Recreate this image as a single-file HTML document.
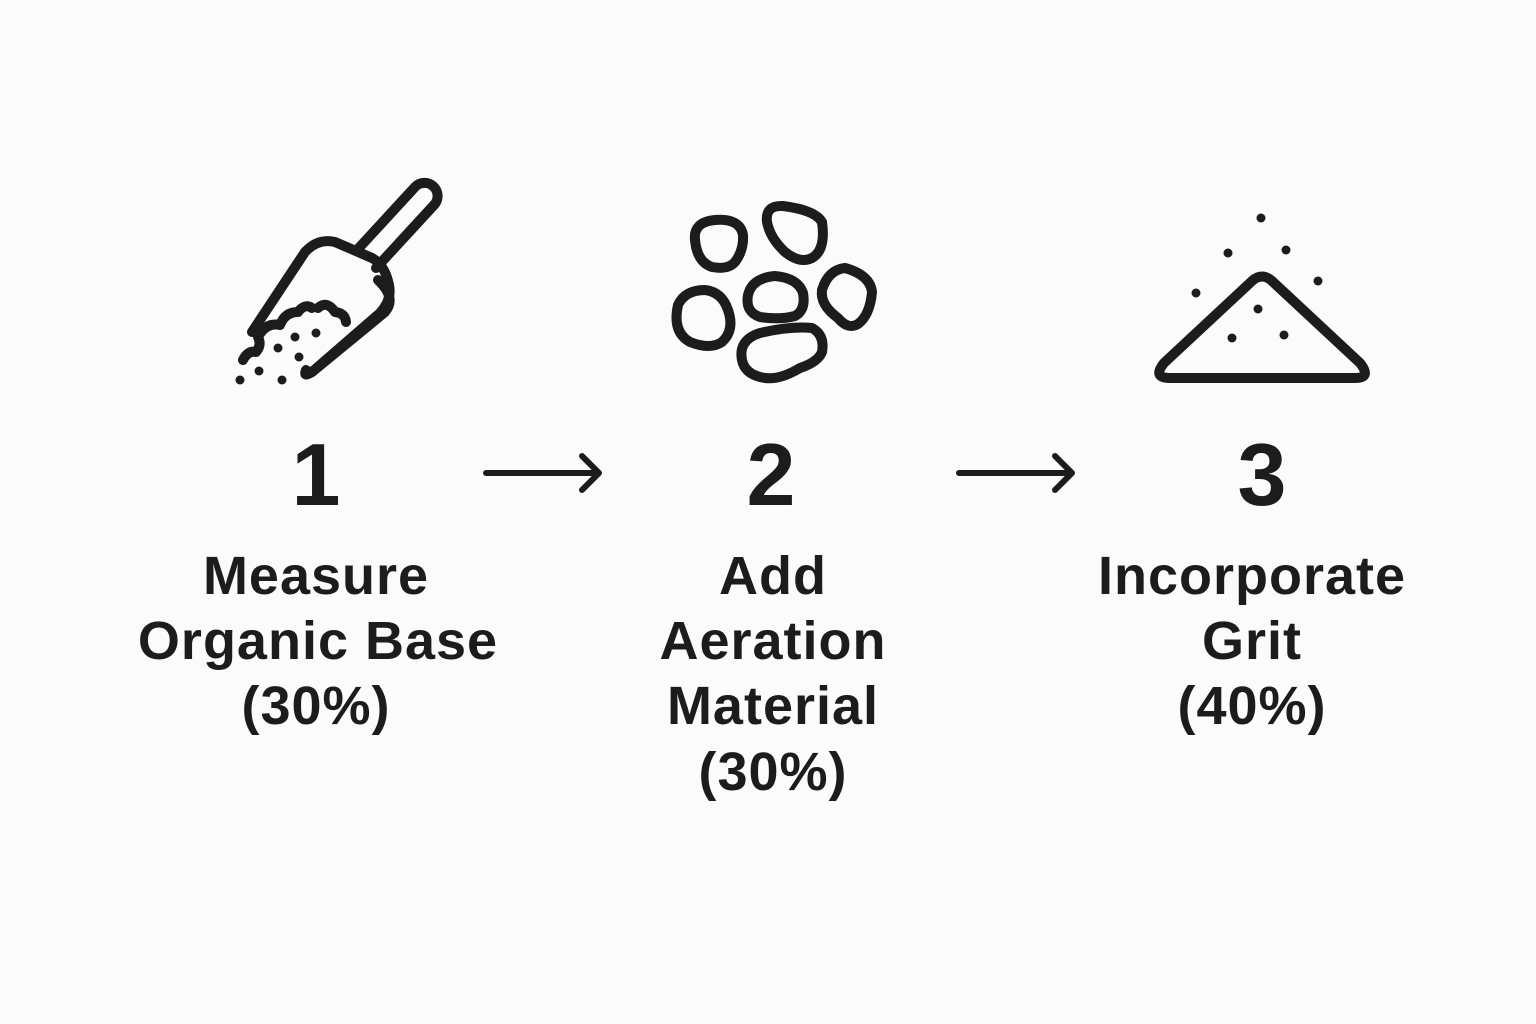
<!DOCTYPE html>
<html><head><meta charset="utf-8"><style>
html,body{margin:0;padding:0;background:#fbfbfb;}
svg{display:block}
text{font-family:"Liberation Sans",Arial,sans-serif;font-weight:bold;fill:#1c1c1c;text-anchor:middle}
.lbl text{letter-spacing:1px}
</style></head><body>
<svg width="1536" height="1024" viewBox="0 0 1536 1024" xmlns="http://www.w3.org/2000/svg">
<rect width="1536" height="1024" fill="#fbfbfb"/>
<g fill="none" stroke="#1c1c1c" stroke-width="10" stroke-linecap="round" stroke-linejoin="round">
 <path d="M357,250 L415,187 A13,13 0 0 1 434,205 L376,268"/>
 <path d="M252,332 L305,252 Q318,238 335,242 L372,258 Q385,265 389,285 Q392,300 380,313 L312,372 Q303,378 306,370"/>
 <path d="M378,280 Q397,298 385,312 L312,372"/>
 <path d="M243,360 Q248,350 256,352 Q262,345 258,337 Q266,322 280,325 Q285,312 298,312 Q305,303 312,308 M318,308 Q327,300 335,312 Q345,313 346,322"/>
 <path d="M695,240 Q693,222 715,220 Q740,218 743,235 Q744,250 735,262 Q728,270 712,267 Q697,262 695,240Z"/>
 <path d="M767,222 Q765,205 783,206 Q815,210 822,222 Q826,250 812,258 Q800,264 785,252 Q770,238 767,222Z"/>
 <path d="M678,305 Q685,290 705,290 Q722,292 728,310 Q735,330 722,342 Q710,350 690,342 Q672,332 678,305Z"/>
 <path d="M748,295 Q752,278 775,276 Q798,278 803,293 Q806,310 795,316 Q780,320 760,317 Q745,312 748,295Z"/>
 <path d="M822,290 Q828,270 845,268 Q870,275 872,292 Q870,315 858,324 Q848,330 838,318 Q820,305 822,290Z"/>
 <path d="M742,360 Q738,340 760,333 Q790,326 812,328 Q825,335 822,352 Q818,362 800,368 Q780,380 765,378 Q745,375 742,360Z"/>
 <path d="M1252,281 Q1262,272 1272,281 L1360,363 Q1372,378 1355,378 L1170,378 Q1152,378 1164,363 Z"/>
</g>
<g fill="none" stroke="#1c1c1c" stroke-width="6" stroke-linecap="round" stroke-linejoin="round">
 <path d="M486,473 L598,473 M582,456 L599,473 L582,490"/>
 <path d="M959,473 L1071,473 M1055,456 L1072,473 L1055,490"/>
</g>
<g fill="#1c1c1c">
 <circle cx="295" cy="337" r="4.5"/><circle cx="316" cy="333" r="4.5"/><circle cx="278" cy="348" r="4.5"/>
 <circle cx="299" cy="357" r="4.5"/><circle cx="259" cy="371" r="4.5"/><circle cx="240" cy="380" r="4.5"/>
 <circle cx="282" cy="380" r="4.5"/>
 <circle cx="1261" cy="218" r="4.5"/><circle cx="1228" cy="253" r="4.5"/><circle cx="1286" cy="250" r="4.5"/>
 <circle cx="1196" cy="293" r="4.5"/><circle cx="1318" cy="281" r="4.5"/><circle cx="1258" cy="309" r="4.5"/>
 <circle cx="1232" cy="338" r="4.5"/><circle cx="1284" cy="335" r="4.5"/>
</g>
<g font-size="88">
 <text x="316" y="505">1</text><text x="771" y="505">2</text><text x="1262" y="505">3</text>
</g>
<g font-size="54" class="lbl">
 <text x="316" y="594">Measure</text>
 <text x="318" y="659">Organic Base</text>
 <text x="316" y="724">(30%)</text>
 <text x="773" y="594">Add</text>
 <text x="773" y="659">Aeration</text>
 <text x="773" y="724">Material</text>
 <text x="773" y="790">(30%)</text>
 <text x="1252" y="594">Incorporate</text>
 <text x="1252" y="659">Grit</text>
 <text x="1252" y="724">(40%)</text>
</g>
</svg>
</body></html>
